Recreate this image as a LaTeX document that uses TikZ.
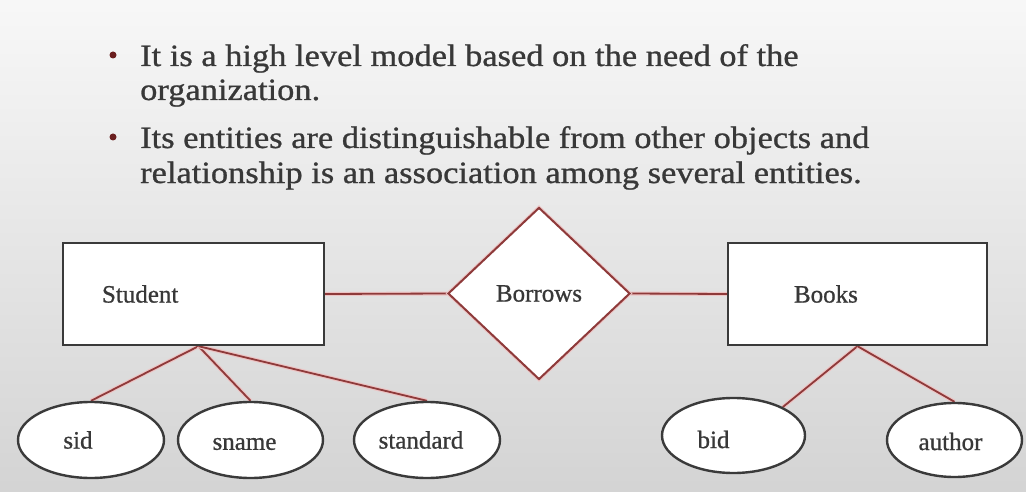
\documentclass[tikz,border=0pt]{standalone}
\usepackage{fontspec}
\setmainfont{Liberation Serif}[FakeBold=0.8]
\usetikzlibrary{shapes.geometric,calc}
\definecolor{ink}{HTML}{383838}
\definecolor{edgeink}{HTML}{3A3A3A}
\definecolor{rel}{HTML}{8E3A3A}
\definecolor{relglow}{HTML}{EDC4C4}
\definecolor{bulletred}{HTML}{6B1F1F}
\pgfdeclarelayer{back}
\pgfdeclarelayer{wires}
\pgfsetlayers{back,wires,main}
\tikzset{
  labelfont/.style={font=\fontsize{25}{30}\selectfont, text=ink},
  attrlabel/.style={labelfont},
  entity/.style={rectangle, draw=edgeink, line width=2.4pt, fill=white,
    minimum height=102pt, inner ysep=0pt, align=left, labelfont},
  attr/.style={ellipse, draw=edgeink, line width=2.4pt, fill=white, inner sep=0pt},
  relation/.style={diamond, draw=rel, line width=2pt, fill=white,
    minimum width=182pt, minimum height=172pt, inner sep=0pt, labelfont,
    preaction={draw=relglow, line width=4pt}},
  link/.style={draw=rel, line width=1.8pt, preaction={draw=relglow, line width=4pt}},
  bodytext/.style={anchor=base west, inner sep=0pt, font=\fontsize{31}{36}\selectfont, text=ink},
  dot/.style={circle, fill=bulletred, inner sep=0pt, minimum size=7pt},
}
\newcommand{\wide}[1]{\scalebox{1.11}[1]{#1}}
\begin{document}
\begin{tikzpicture}[x=1pt,y=-1pt]
  \useasboundingbox (0,0) rectangle (1026,492);
  \begin{pgfonlayer}{back}
    \shade[top color=white!97!black, middle color=white!91!black, bottom color=white!83!black]
      (0,0) rectangle (1026,492);
  \end{pgfonlayer}

  % bullet list
  \node[dot] (b1) at (113,55) {};
  \node[bodytext] (t1) at (140,66) {\wide{It is a high level model based on the need of the}};
  \node[bodytext] (t2) at (140,100) {\wide{organization.}};
  \node[dot] (b2) at (113,137) {};
  \node[bodytext] (t3) at (140,148) {\wide{Its entities are distinguishable from other objects and}};
  \node[bodytext] (t4) at (140,183) {\wide{relationship is an association among several entities.}};

  % entities and relationship
  \node[entity, text width=183pt, inner xsep=39pt] (student) at (193.5,294) {Student};
  \node[entity, text width=127pt, inner xsep=66pt] (books) at (857.5,294) {Books};
  \node[relation] (borrows) at (539,293.5) {Borrows};

  % attributes
  \node[attr, minimum width=146pt, minimum height=76pt,
    label={[attrlabel, xshift=-13pt]center:sid}] (sid) at (91,440) {};
  \node[attr, minimum width=145pt, minimum height=76pt,
    label={[attrlabel, xshift=-6pt, yshift=-4pt]center:sname}] (sname) at (250.5,440) {};
  \node[attr, minimum width=146pt, minimum height=76pt,
    label={[attrlabel, xshift=-6pt]center:standard}] (standard) at (427,440) {};
  \node[attr, minimum width=143pt, minimum height=75pt,
    label={[attrlabel, xshift=-20pt, yshift=-4pt]center:bid}] (bid) at (733.5,435.5) {};
  \node[attr, minimum width=135pt, minimum height=74pt,
    label={[attrlabel, xshift=-4pt, yshift=-1.5pt]center:author}] (author) at (954.5,440) {};

  % connectors
  \coordinate (sroot) at ($(student.south)+(5,0)$);
  \coordinate (broot) at (books.south);
  \begin{pgfonlayer}{wires}
    \draw[link] (student.east) -- (borrows.west);
    \draw[link] (borrows.east) -- (books.west);
    \draw[link] (sroot) -- (sid.north);
    \draw[link] (sroot) -- (sname.north);
    \draw[link] (sroot) -- (standard.north);
    \draw[link] (broot) -- (bid.30);
    \draw[link] (broot) -- (author.north);
  \end{pgfonlayer}
\end{tikzpicture}
\end{document}
